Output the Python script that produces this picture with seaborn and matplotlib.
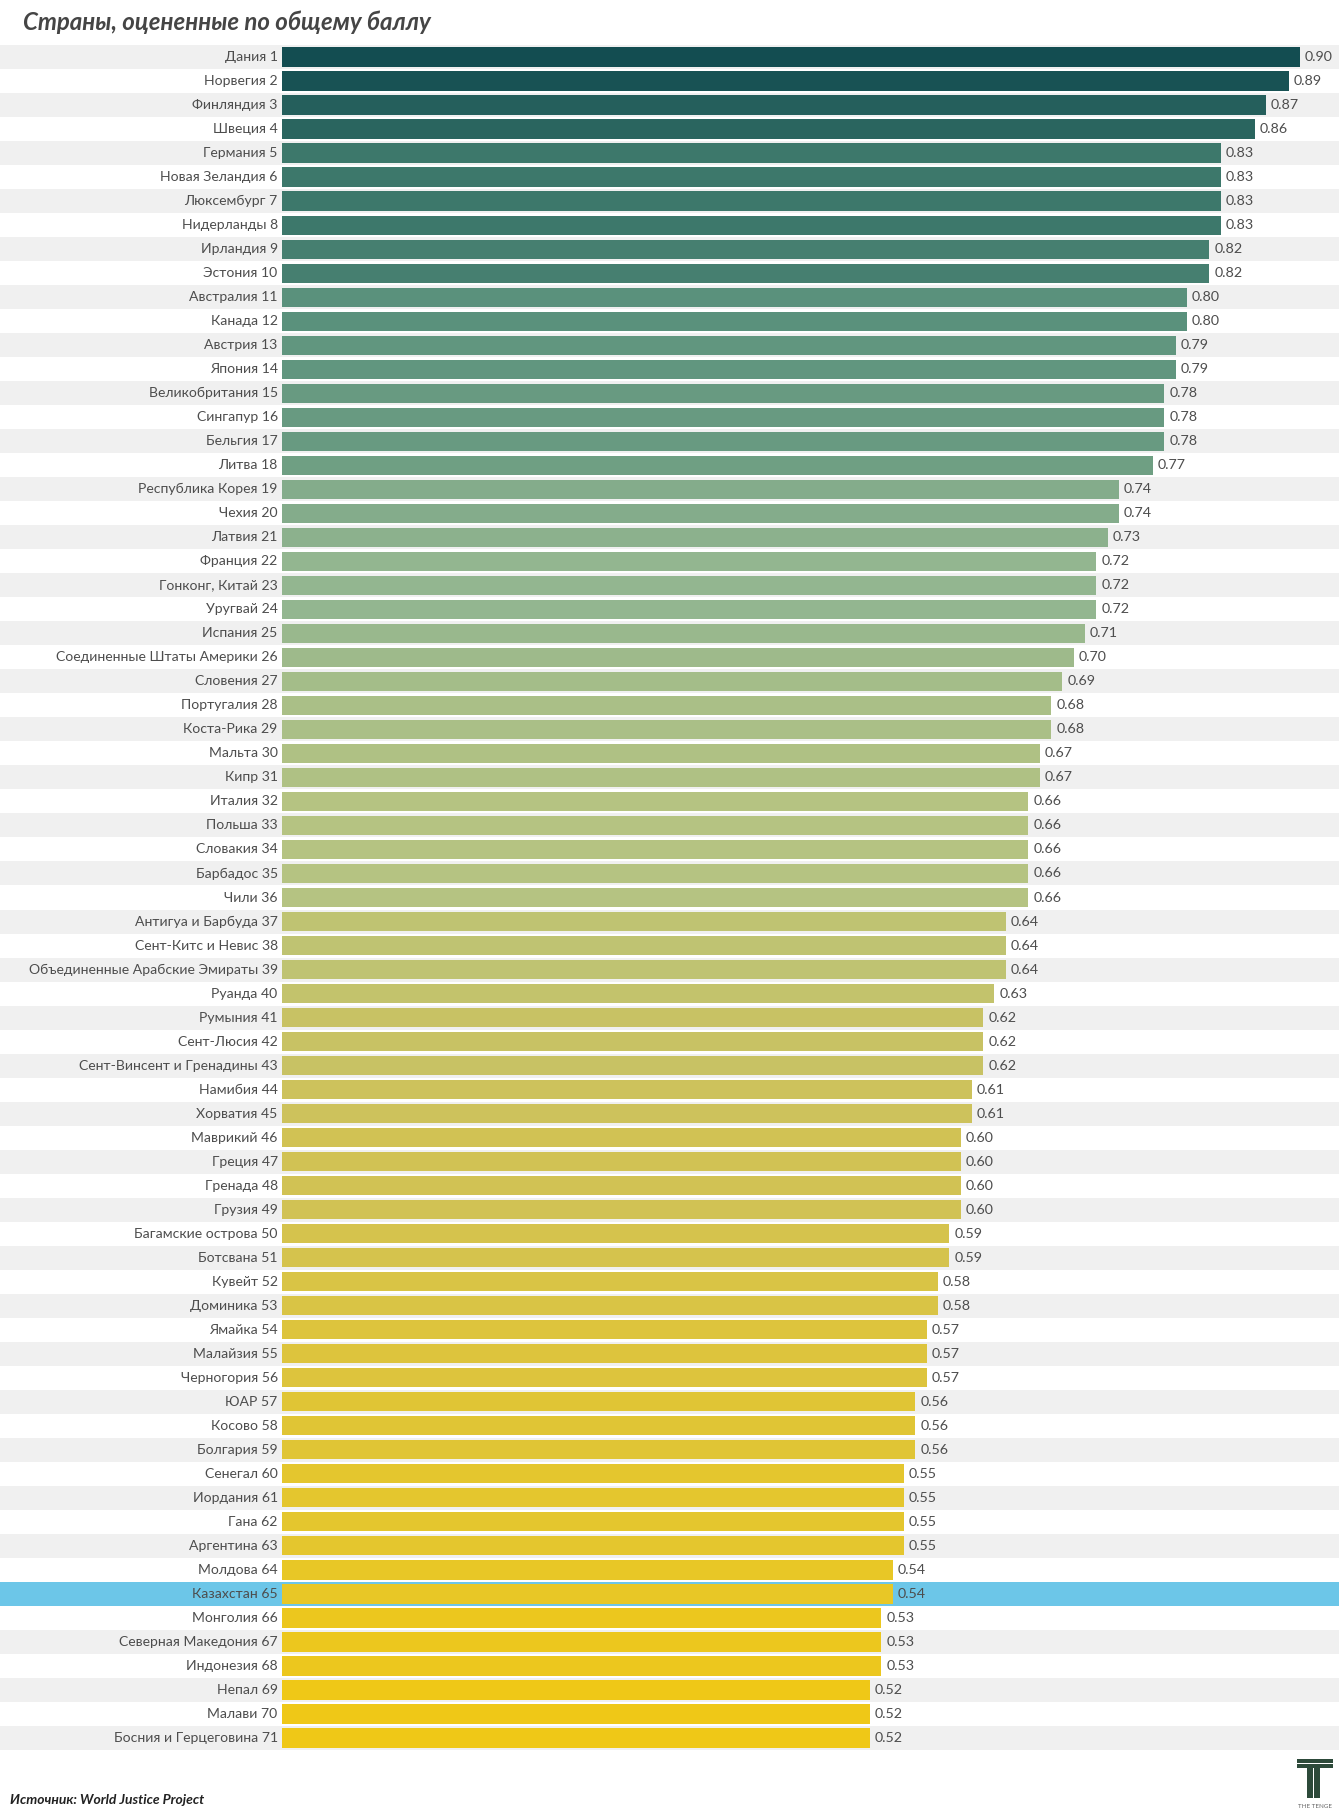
import matplotlib
matplotlib.use("Agg")
import matplotlib.pyplot as plt
import seaborn as sns
import pandas as pd
from matplotlib.colors import LinearSegmentedColormap, Normalize
from matplotlib.patches import Rectangle

countries = [
    "Дания", "Норвегия", "Финляндия", "Швеция", "Германия", "Новая Зеландия",
    "Люксембург", "Нидерланды", "Ирландия", "Эстония", "Австралия", "Канада",
    "Австрия", "Япония", "Великобритания", "Сингапур", "Бельгия", "Литва",
    "Республика Корея", "Чехия", "Латвия", "Франция", "Гонконг, Китай",
    "Уругвай", "Испания", "Соединенные Штаты Америки", "Словения",
    "Португалия", "Коста-Рика", "Мальта", "Кипр", "Италия", "Польша",
    "Словакия", "Барбадос", "Чили", "Антигуа и Барбуда", "Сент-Китс и Невис",
    "Объединенные Арабские Эмираты", "Руанда", "Румыния", "Сент-Люсия",
    "Сент-Винсент и Гренадины", "Намибия", "Хорватия", "Маврикий", "Греция",
    "Гренада", "Грузия", "Багамские острова", "Ботсвана", "Кувейт", "Доминика",
    "Ямайка", "Малайзия", "Черногория", "ЮАР", "Косово", "Болгария", "Сенегал",
    "Иордания", "Гана", "Аргентина", "Молдова", "Казахстан", "Монголия",
    "Северная Македония", "Индонезия", "Непал", "Малави",
    "Босния и Герцеговина",
]
scores = [
    0.90, 0.89, 0.87, 0.86, 0.83, 0.83, 0.83, 0.83, 0.82, 0.82, 0.80, 0.80,
    0.79, 0.79, 0.78, 0.78, 0.78, 0.77, 0.74, 0.74, 0.73, 0.72, 0.72, 0.72,
    0.71, 0.70, 0.69, 0.68, 0.68, 0.67, 0.67, 0.66, 0.66, 0.66, 0.66, 0.66,
    0.64, 0.64, 0.64, 0.63, 0.62, 0.62, 0.62, 0.61, 0.61, 0.60, 0.60, 0.60,
    0.60, 0.59, 0.59, 0.58, 0.58, 0.57, 0.57, 0.57, 0.56, 0.56, 0.56, 0.55,
    0.55, 0.55, 0.55, 0.54, 0.54, 0.53, 0.53, 0.53, 0.52, 0.52, 0.52,
]
ranks = list(range(1, len(countries) + 1))
highlight = "Казахстан"

df = pd.DataFrame({"country": countries, "score": scores, "rank": ranks})
df["label"] = df["country"] + " " + df["rank"].astype(str)

# colour ramp by score: yellow (low) -> dark teal (high)
stops = [0.52, 0.60, 0.66, 0.72, 0.80, 0.83, 0.90]
stop_colors = ["#efc817", "#d1c255", "#b5c382", "#93b690", "#5a917c", "#3d786b", "#134d51"]
norm = Normalize(min(stops), max(stops))
cmap = LinearSegmentedColormap.from_list(
    "wjp", [(norm(s), c) for s, c in zip(stops, stop_colors)]
)
palette = [cmap(norm(v)) for v in df["score"]]

W, H = 1339, 1814
fig = plt.figure(figsize=(W / 100, H / 100), dpi=100)
fig.patch.set_facecolor("white")

top_px, bottom_px = 45, 1750
ax = fig.add_axes([0, 1 - bottom_px / H, 1, (bottom_px - top_px) / H])
ax.set_facecolor("none")

sns.barplot(
    data=df, x="score", y="label", hue="label", palette=palette,
    orient="h", width=0.8, legend=False, ax=ax, zorder=2, saturation=1,
)

n = len(df)
for i, c in enumerate(df["country"]):
    if c == highlight:
        ax.axhspan(i - 0.5, i + 0.5, color="#6cc6e8", zorder=0, lw=0)
    elif i % 2 == 0:
        ax.axhspan(i - 0.5, i + 0.5, color="#f0f0f0", zorder=0, lw=0)

px_per_unit = 1131.4
x0_px = 281.7
ax.set_xlim(-x0_px / px_per_unit, (W - x0_px) / px_per_unit)
ax.set_ylim(n - 0.5, -0.5)

txt_color = "#4d4d4d"
for i, (lab, v) in enumerate(zip(df["label"], df["score"])):
    ax.text(-0.0035, i, lab, ha="right", va="center", fontsize=10.1,
            family="Lato", color=txt_color, zorder=3)
    ax.text(v + 0.0045, i, f"{v:.2f}", ha="left", va="center", fontsize=10.3,
            family="Lato", color=txt_color, zorder=3)

ax.set_xticks([])
ax.set_yticks([])
ax.set_xlabel("")
ax.set_ylabel("")
for s in ax.spines.values():
    s.set_visible(False)

fig.text(23 / W, 1 - 22 / H, "Страны, оцененные по общему баллу", ha="left",
         va="center", fontsize=17.3, family="Lato", fontweight="bold",
         style="italic", color="#454545")
fig.text(10 / W, 1 - 1800 / H, "Источник: World Justice Project", ha="left",
         va="center", fontsize=10, family="Lato", fontweight="bold",
         style="italic", color="#222222")

# logo
logo = "#2d4a3a"
def px_rect(x, y, w, h):
    fig.add_artist(Rectangle((x / W, 1 - (y + h) / H), w / W, h / H,
                             transform=fig.transFigure, color=logo, lw=0))
px_rect(1297, 1759, 36, 3.5)
px_rect(1297, 1764, 36, 3.5)
px_rect(1307, 1764, 5.5, 34)
px_rect(1314, 1764, 5.5, 34)
fig.text(1315 / W, 1 - 1806 / H, "THE TENGE", ha="center", va="center",
         fontsize=4.5, family="Lato", color="#666666")

fig.savefig("out.png", dpi=100, facecolor="white")
